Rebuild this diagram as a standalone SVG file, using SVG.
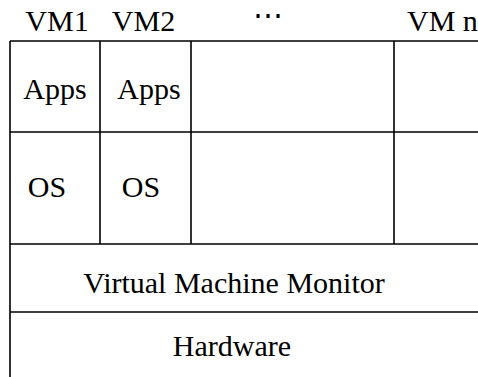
<svg xmlns="http://www.w3.org/2000/svg" width="478" height="377" viewBox="0 0 478 377">
<style>
.ln{stroke:#000;stroke-width:1.6;fill:none}
.t{font-family:"Liberation Serif","Times New Roman",serif;font-size:30px;fill:#000;text-anchor:middle}
.dots{font-family:"DejaVu Serif","Liberation Serif",serif;font-size:30px}
</style>
<rect width="478" height="377" fill="#fff"/>
<g id="labels">
<text class="t" x="57" y="31">VM1</text>
<text class="t" x="143.5" y="31">VM2</text>
<text class="t dots" x="268" y="24.5">⋯</text>
<text class="t" x="407" y="31" style="text-anchor:start">VM n</text>
</g>
<g id="connectors">
<path class="ln" d="M10,41H478M10,132H478M10,244H478M10,312H478M10,41V377M100,41V244M191,41V244M394,41V244"/>
</g>
<g id="vm1-apps"><text class="t" x="55" y="99">Apps</text></g>
<g id="vm2-apps"><text class="t" x="149" y="99">Apps</text></g>
<g id="vm1-os"><text class="t" x="47" y="197">OS</text></g>
<g id="vm2-os"><text class="t" x="141" y="197">OS</text></g>
<g id="vmm"><text class="t" x="234" y="293">Virtual Machine Monitor</text></g>
<g id="hardware"><text class="t" x="232" y="356">Hardware</text></g>
</svg>
